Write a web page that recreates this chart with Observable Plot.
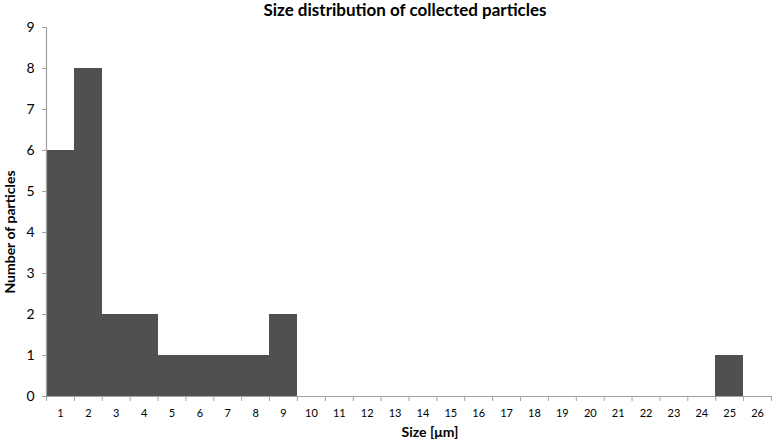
<!DOCTYPE html>
<html>
<head>
<meta charset="utf-8">
<script src="https://cdn.jsdelivr.net/npm/d3@7"></script>
<script src="https://cdn.jsdelivr.net/npm/@observablehq/plot@0.6"></script>
<style>
  body { margin: 0; background: #fff; font-family: Lato, "Open Sans", sans-serif; }
  #title { height: 18px; line-height: 20px; font-weight: bold; font-size: 17px; color: #000;
           text-align: center; padding-left: 38px; width: 734px; white-space: nowrap; }
</style>
</head>
<body>
<div id="title">Size distribution of collected particles</div>
<div id="chart"></div>
<script>
const sizes = [1,2,3,4,5,6,7,8,9,10,11,12,13,14,15,16,17,18,19,20,21,22,23,24,25,26];
const counts = [6,8,2,2,1,1,1,1,2,0,0,0,0,0,0,0,0,0,0,0,0,0,0,0,1,0];
const yTicks = [0,1,2,3,4,5,6,7,8,9];
const xLabel = "Size [μm]";
const yLabel = "Number of particles";

const data = sizes.map((s, i) => ({size: s, count: counts[i]}));
const boundaries = [0].concat(sizes).map(s => s + 0.5);
const gray = "#a0a0a0";
const barColor = "#505050";

const chart = Plot.plot({
  width: 772,
  height: 426,
  marginTop: 9,
  marginBottom: 48,
  marginLeft: 46,
  marginRight: 1,
  style: {fontFamily: "Lato, 'Open Sans', sans-serif", color: "#000", background: "#fff"},
  x: {domain: [0.5, 26.5]},
  y: {domain: [0, 9]},
  marks: [
    Plot.rectY(data.filter(d => d.count > 0), {x1: d => d.size - 0.5, x2: d => d.size + 0.5, y1: 0, y2: "count", fill: barColor, shapeRendering: "crispEdges"}),
    Plot.ruleY([0], {stroke: gray, strokeWidth: 1.2}),
    Plot.ruleX([0.5], {stroke: gray, strokeWidth: 1.2}),
    Plot.axisY({ticks: yTicks, tickSize: 4, tickPadding: 8, stroke: gray, fontSize: 14, label: null, tickFormat: d => d}),
    Plot.axisX({ticks: boundaries, tickSize: 5, tickFormat: () => "", stroke: gray, label: null}),
    Plot.axisX({ticks: sizes, tickSize: 0, tickPadding: 13, fontSize: 11, label: null, tickFormat: d => d}),
    Plot.text([xLabel], {frameAnchor: "bottom", dx: 21, dy: 40, fontWeight: "bold", fontSize: 14}),
    Plot.text([yLabel], {frameAnchor: "left", textAnchor: "middle", rotate: -90, dx: -36, dy: 20, fontWeight: "bold", fontSize: 14})
  ]
});
document.getElementById("chart").appendChild(chart);
</script>
</body>
</html>
